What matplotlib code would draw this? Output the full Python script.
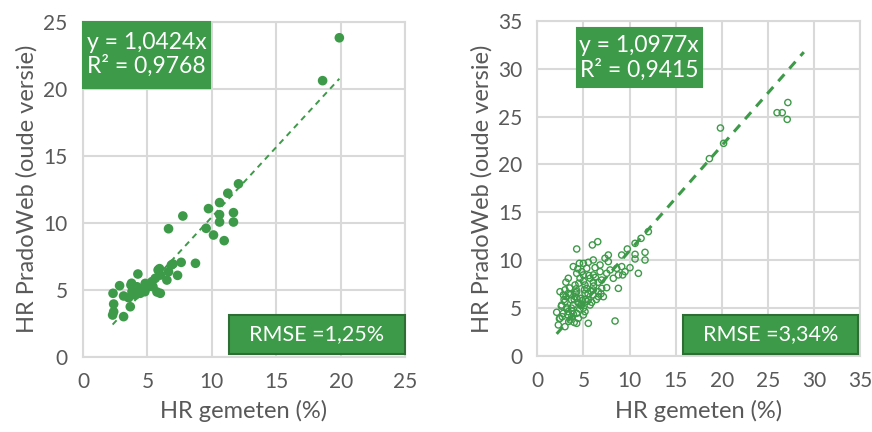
import matplotlib
matplotlib.use("Agg")
import matplotlib.pyplot as plt
from matplotlib.patches import Rectangle
import numpy as np

plt.rcParams['font.family'] = ['Lato', 'DejaVu Sans']

GREEN = "#3d9a48"
GRID = "#d9d9d9"
TXT = "#595959"

# left panel: measured vs old PradoWeb (filled dots)
left_x = [19.9, 18.6, 12.07, 11.24, 10.6, 9.74, 11.68, 10.6, 10.6, 11.68, 9.56, 10.13,
          10.96, 7.75, 6.64, 8.73, 7.62, 6.98, 5.94, 6.64, 7.34, 6.51, 6.0, 4.26, 5.35,
          5.09, 5.43, 6.0, 5.74, 4.57, 4.19, 3.72, 2.84, 2.33, 3.15, 3.54, 4.06, 4.44,
          2.38, 3.67, 2.38, 2.3, 3.15, 3.8, 4.83, 5.61, 5.83, 6.86, 4.8, 3.77]
left_y = [23.8, 20.6, 12.9, 12.2, 11.5, 11.05, 10.75, 10.6, 10.05, 10.05, 9.58, 9.08,
          8.66, 10.5, 9.55, 6.97, 7.04, 6.92, 6.57, 6.34, 6.07, 5.72, 6.09, 6.17, 5.6,
          5.22, 5.22, 4.73, 4.83, 5.02, 5.22, 5.35, 5.3, 4.73, 4.53, 4.4, 4.6, 4.73,
          3.93, 3.73, 3.36, 3.11, 2.99, 4.85, 5.47, 5.85, 6.47, 6.84, 4.85, 5.48]
left_slope = 1.0424
left_eq = "y = 1,0424x\nR² = 0,9768"
left_rmse = "RMSE =1,25%"

# right panel: open circles
right_x = [27.17, 26.0, 26.56, 27.1, 19.86, 20.2, 18.66,
           12.04, 11.25, 10.6, 6.55, 5.97, 4.27, 9.76, 10.6, 11.68, 11.68, 10.6, 9.15,
           7.7, 7.7, 6.07, 4.99, 4.56, 3.9, 5.36, 6.8, 6.8, 6.07, 4.99, 4.27, 7.89, 8.61,
           9.15, 10.05, 8.79, 9.26, 10.96, 9.51, 8.24, 3.36, 4.63, 6.07, 7.52, 6.98, 8.79,
           5.17, 4.09, 2.46, 3.36, 4.27, 5.17, 6.07, 6.62, 7.16, 5.53, 4.63, 3.73, 3.0,
           2.65, 3.9, 4.81, 5.72, 3.36, 2.1, 2.82, 4.27, 5.17, 2.46, 3.55, 4.27, 5.53,
           8.43, 2.28, 3.0, 3.73, 4.45, 4.99, 3.19, 5.36, 6.07, 6.62, 2.82, 4.09, 5.72,
           7.34, 4.81, 6.98, 7.52, 6.26, 5.53,
           3.0, 3.5, 4.0, 4.4, 5.0, 5.4, 3.2, 2.9, 3.8, 4.6, 5.9, 6.4, 6.9, 3.4, 2.7,
           4.2, 5.0, 5.6, 6.3, 4.4,
           3.1, 3.6, 4.1, 4.7, 5.2, 5.8, 2.6, 3.3, 3.9, 4.5, 5.1, 6.1, 6.6, 3.7, 4.3,
           4.9, 5.5, 2.4, 3.1, 4.0]
right_y = [26.46, 25.4, 25.4, 24.7, 23.8, 22.2, 20.6,
           12.98, 12.28, 11.76, 11.93, 11.59, 11.17, 11.17, 10.61, 10.82, 10.02, 10.13,
           10.54, 10.54, 9.85, 10.02, 9.67, 9.67, 9.33, 9.15, 9.5, 8.8, 8.46, 8.46, 8.63,
           8.98, 9.15, 9.33, 9.22, 8.46, 8.46, 8.63, 8.8, 8.11, 8.11, 8.11, 7.69, 7.13,
           7.06, 7.06, 7.41, 7.41, 6.71, 6.54, 6.71, 6.54, 6.37, 6.19, 6.19, 5.85, 6.02,
           5.85, 5.67, 5.32, 5.32, 5.32, 5.32, 4.63, 4.56, 4.45, 4.45, 4.63, 3.93, 3.76,
           3.41, 3.41, 3.65, 3.24, 3.06, 4.1, 3.93, 4.28, 5.04, 7.06, 6.89, 6.71, 6.37,
           6.19, 8.11, 10.2, 8.8, 7.93, 8.63, 9.22, 9.78,
           6.9, 7.1, 5.9, 5.6, 5.0, 5.7, 4.9, 5.9, 4.7, 4.9, 5.6, 5.9, 6.5, 3.6, 4.1,
           7.0, 7.8, 8.4, 8.2, 9.1,
           6.2, 6.4, 6.6, 5.3, 5.9, 6.8, 5.2, 4.3, 4.4, 7.6, 6.9, 7.3, 7.7, 5.0, 6.0,
           5.8, 6.5, 3.9, 7.7, 3.5]
right_slope = 1.0977
right_line_end = 28.9
right_eq = "y = 1,0977x\nR² = 0,9415"
right_rmse = "RMSE =3,34%"

fig = plt.figure(figsize=(8.72, 4.32), dpi=100)
ax1 = fig.add_axes([0.0952, 0.1743, 0.3693, 0.7755])
ax2 = fig.add_axes([0.6162, 0.176, 0.3701, 0.776])


def style(ax, lim, step):
    ax.set_xlim(0, lim)
    ax.set_ylim(0, lim)
    ticks = np.arange(0, lim + 1, step)
    ax.set_xticks(ticks)
    ax.set_yticks(ticks)
    ax.grid(True, color=GRID, lw=1.5, zorder=0)
    ax.set_axisbelow(True)
    for s in ax.spines.values():
        s.set_color(GRID)
        s.set_linewidth(1.5)
    ax.tick_params(length=0, labelsize=15, colors=TXT, pad=11)
    ax.set_xlabel("HR gemeten (%)", fontsize=17, color=TXT, labelpad=6)
    ax.set_ylabel("HR PradoWeb (oude versie)", fontsize=17, color=TXT, labelpad=4)


def box(ax, x0, y0, w, h, text, edge, size):
    ax.add_patch(Rectangle((x0, y0), w, h, transform=ax.transAxes, facecolor=GREEN,
                           edgecolor=edge, lw=1.5, zorder=5, clip_on=False))
    ax.text(x0 + w / 2, y0 + h / 2, text, transform=ax.transAxes, ha="center",
            va="center", color="white", fontsize=size, zorder=6, linespacing=1.1)


style(ax1, 25, 5)
ax1.scatter(left_x, left_y, s=48, color=GREEN, edgecolors="none", zorder=3)
lx = np.array([min(left_x), max(left_x)])
ax1.plot(lx, left_slope * lx, ls=(0, (3, 2.5)), color=GREEN, lw=1.4, zorder=4)
box(ax1, 0.0, 0.803, 0.394, 0.197, left_eq, GREEN, 16.5)
box(ax1, 0.453, 0.008, 0.547, 0.116, left_rmse, "#2e6e35", 15.5)

style(ax2, 35, 5)
ax2.scatter(right_x, right_y, s=20, facecolors="none", edgecolors=GREEN, lw=1.0, zorder=3)
rx = np.array([min(right_x), right_line_end])
ax2.plot(rx, right_slope * rx, ls=(0, (3, 2.5)), color=GREEN, lw=2.2, zorder=4)
box(ax2, 0.122, 0.801, 0.387, 0.176, right_eq, GREEN, 16.5)
box(ax2, 0.451, 0.006, 0.542, 0.116, right_rmse, "#2e6e35", 15.5)

fig.savefig("out.png", dpi=100)
